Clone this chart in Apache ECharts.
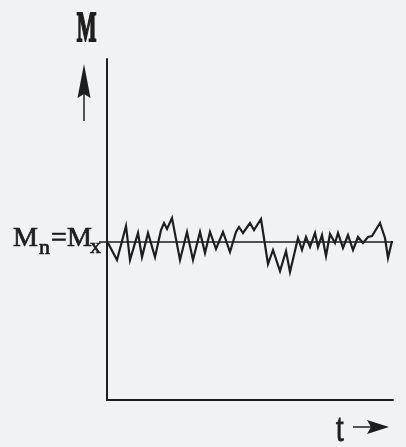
<!DOCTYPE html>
<html>
<head>
<meta charset="utf-8">
<script src="https://cdn.jsdelivr.net/npm/echarts@6/dist/echarts.min.js"></script>
<style>
  html, body { margin: 0; padding: 0; background: #f1f2f4; }
  #chart { width: 406px; height: 447px; }
</style>
</head>
<body>
<div id="chart"></div>
<script>
// Time axis positions of the fluctuation's turning points
const tValues = [1, 10, 19, 23, 31, 35, 41, 48, 54, 57, 60, 65, 73, 80, 86, 93, 98, 103, 109, 116,
  123, 129, 132, 136, 143, 147, 154, 161, 166, 173, 179, 183, 191, 195, 199, 203, 208, 211, 215, 219,
  223, 228, 231, 236, 241, 246, 251, 256, 261, 265, 273, 278, 281, 285];
// Measured quantity M at those instants
const mValues = [157, 140, 174, 140, 167, 143, 167, 143, 170, 177, 171, 182, 140, 168, 140, 168, 147, 168, 151, 168,
  148, 168, 173, 167, 177, 170, 181, 136, 150, 129, 149, 128, 162, 150, 163, 153, 167, 153, 165, 144,
  166, 157, 167, 152, 165, 150, 163, 157, 163, 164, 177, 162, 142, 159];
// Set point level: Mn = Mx
const meanLevel = 158;
const tRange = [0, 286];
const mRange = [0, 341];

const ink = '#1e1e1e';
const serif = '"Liberation Serif", "DejaVu Serif", serif';

// heavier serif lettering: fill plus a thin outline of the same ink
function label(text, x, y, font, extra) {
  return Object.assign({
    type: 'text', x: x, y: y,
    style: { text: text, font: font, fill: ink, stroke: ink, lineWidth: 0.7,
             align: 'left', verticalAlign: 'middle' }
  }, extra || {});
}

const chart = echarts.init(document.getElementById('chart'), null, { renderer: 'canvas' });

chart.setOption({
  backgroundColor: '#f1f2f4',
  animation: false,
  grid: { left: 107, right: 13, top: 59, bottom: 47 },
  xAxis: {
    type: 'value', min: tRange[0], max: tRange[1],
    axisLine: { show: true, lineStyle: { color: ink, width: 2 } },
    axisTick: { show: false }, axisLabel: { show: false }, splitLine: { show: false }
  },
  yAxis: {
    type: 'value', min: mRange[0], max: mRange[1],
    axisLine: { show: true, lineStyle: { color: ink, width: 2 } },
    axisTick: { show: true, customValues: [meanLevel], length: 8, lineStyle: { color: ink, width: 1.5 } },
    axisLabel: { show: false }, splitLine: { show: false }
  },
  series: [
    {
      type: 'line', symbol: 'none', silent: true,
      data: [[tRange[0], meanLevel], [tRange[1], meanLevel]],
      lineStyle: { color: ink, width: 1.5 }
    },
    {
      type: 'line', symbol: 'none', silent: true,
      data: tValues.map((t, i) => [t, mValues[i]]),
      lineStyle: { color: ink, width: 2.2, join: 'miter' }
    }
  ],
  graphic: [
    // axis name M with upward arrow
    { type: 'text', x: 86.5, y: 30, scaleX: 0.58, scaleY: 1.15,
      style: { text: 'M', font: 'bold 36px ' + serif, fill: ink, stroke: ink, lineWidth: 1.6,
               align: 'center', verticalAlign: 'middle' } },
    { type: 'line', shape: { x1: 84, y1: 92, x2: 84, y2: 121 }, style: { stroke: ink, lineWidth: 1.5 } },
    { type: 'polygon', shape: { points: [[84, 64], [90.5, 98], [84, 94], [77.5, 98]] }, style: { fill: ink } },
    // time label with rightward arrow
    { type: 'text', x: 340, y: 430, scaleX: 0.7, scaleY: 1,
      style: { text: 't', font: '40px ' + serif, fill: ink, stroke: ink, lineWidth: 1,
               align: 'center', verticalAlign: 'middle' } },
    { type: 'line', shape: { x1: 353, y1: 427, x2: 371, y2: 427 }, style: { stroke: ink, lineWidth: 1.5 } },
    { type: 'polygon', shape: { points: [[389, 427], [367, 420], [371, 427], [367, 434]] }, style: { fill: ink } },
    // set point label Mn = Mx
    label('M', 13, 238.5, '28px ' + serif),
    label('n', 39, 248, '22px ' + serif),
    label('=', 51, 238.5, '28px ' + serif),
    label('M', 67, 238.5, '28px ' + serif),
    label('x', 90, 247, '22px ' + serif)
  ]
});
</script>
</body>
</html>
